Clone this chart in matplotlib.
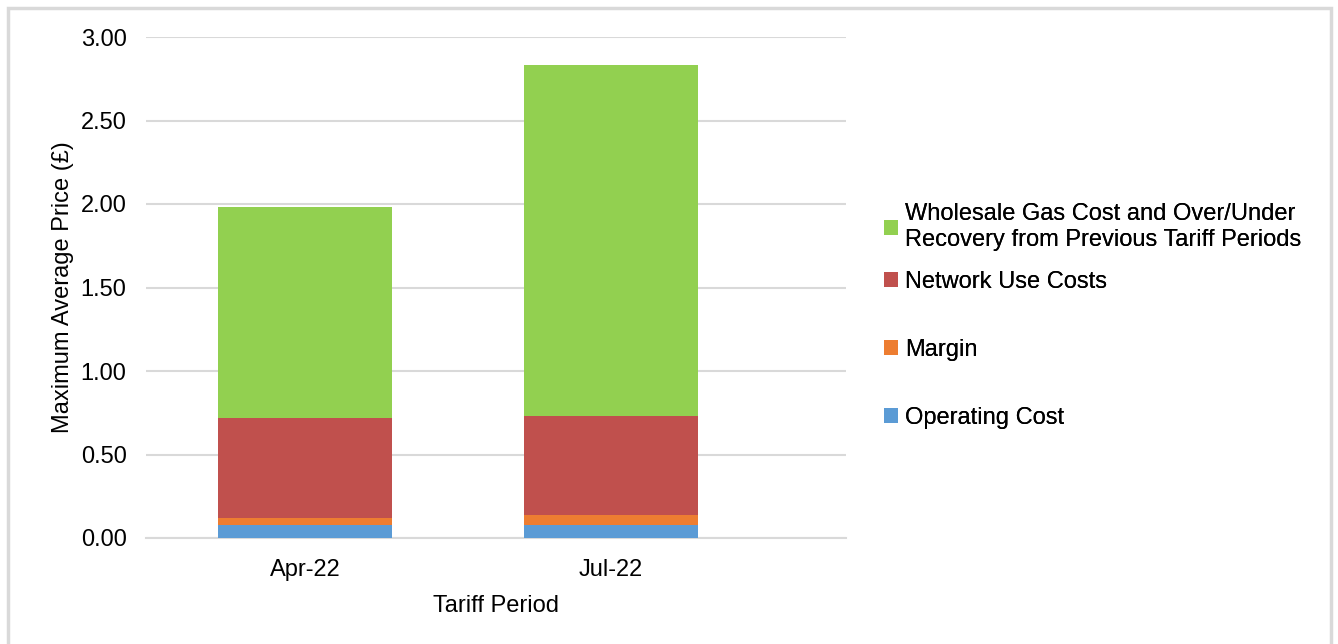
import matplotlib
matplotlib.use("Agg")
import matplotlib.pyplot as plt
from matplotlib.patches import Rectangle, Patch

plt.rcParams['font.family'] = ['Liberation Sans', 'DejaVu Sans']

periods = ["Apr-22", "Jul-22"]
operating_cost = [0.08, 0.08]
margin = [0.04, 0.06]
network_use = [0.60, 0.59]
wholesale_gas = [1.26, 2.10]

series_names = ["Operating Cost", "Margin", "Network Use Costs",
                "Wholesale Gas Cost and Over/Under\nRecovery from Previous Tariff Periods"]
series_values = [operating_cost, margin, network_use, wholesale_gas]
colors = ["#5B9BD5", "#ED7D31", "#C0504D", "#92D050"]
yticks = [0.0, 0.5, 1.0, 1.5, 2.0, 2.5, 3.0]

FS = 17
W, H = 1338, 644
fig = plt.figure(figsize=(W / 100, H / 100), dpi=100)
ax = fig.add_axes([146 / W, 1 - 538 / H, (846 - 146) / W, (538 - 37) / H])

x = list(range(len(periods)))
bottom = [0.0] * len(periods)
for name, vals, c in zip(series_names, series_values, colors):
    ax.bar(x, vals, width=0.57, bottom=bottom, color=c, label=name, zorder=3)
    bottom = [b + v for b, v in zip(bottom, vals)]

ax.set_ylim(0, 3.0)
ax.set_xlim(-0.52, 1.77)
ax.set_yticks(yticks)
ax.set_yticklabels([f"{t:.2f}" for t in yticks])
ax.set_xticks(x)
ax.set_xticklabels(periods)
ax.yaxis.grid(True, color="#D9D9D9", linewidth=1.5, zorder=0)
ax.set_axisbelow(True)
for s in ["top", "right", "left"]:
    ax.spines[s].set_visible(False)
ax.spines["bottom"].set_color("#D9D9D9")
ax.spines["bottom"].set_linewidth(1.5)
ax.tick_params(axis="both", length=0, labelsize=FS, colors="#000000")
ax.tick_params(axis="y", pad=14)
ax.tick_params(axis="x", pad=15)
ax.set_xlabel("Tariff Period", fontsize=FS, labelpad=10)
ax.set_ylabel("Maximum Average Price (£)", fontsize=FS, labelpad=5)

# legend entries (reverse order), placed as in the reference
legend_pos = [227, 282, 350, 418]
for name, c, ypix in zip(series_names[::-1], colors[::-1], legend_pos):
    lg = fig.legend(handles=[Patch(facecolor=c, edgecolor="none")], labels=[name],
                    loc="center left", bbox_to_anchor=(884 / W, 1 - ypix / H),
                    frameon=False, fontsize=FS, handlelength=0.6, handleheight=0.6,
                    handletextpad=0.3, borderpad=0, borderaxespad=0)
    fig.add_artist(lg)

fig.patches.append(Rectangle((7.5 / W, -0.05), (1331 - 7.5) / W, 1 - 7.5 / H + 0.05,
                             transform=fig.transFigure, fill=False,
                             edgecolor="#D9D9D9", linewidth=2.5))

fig.savefig("out.png", dpi=100)
